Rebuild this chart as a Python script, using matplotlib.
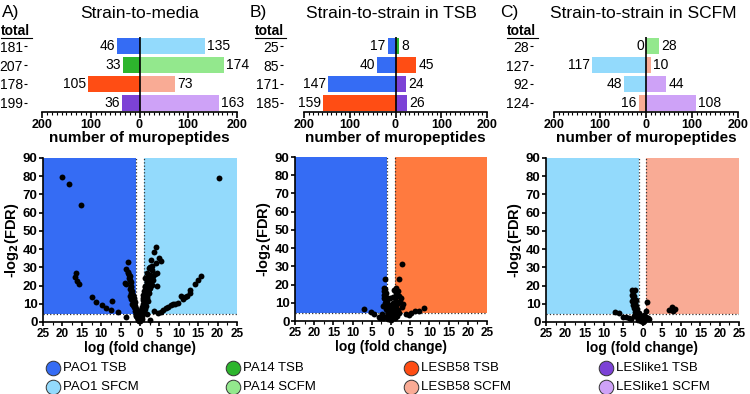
import matplotlib
matplotlib.use("Agg")
import matplotlib.pyplot as plt
from matplotlib.ticker import MultipleLocator, FuncFormatter

plt.rcParams['font.family'] = ['Liberation Sans', 'DejaVu Sans']

# colours for each strain / medium
colors = {
    "PAO1 TSB": "#356cf4",
    "PAO1 SFCM": "#93dafc",
    "PA14 TSB": "#2db52d",
    "PA14 SCFM": "#93e88d",
    "LESB58 TSB": "#ff4d14",
    "LESB58 SCFM": "#f9ab95",
    "LESlike1 TSB": "#7c42d6",
    "LESlike1 SCFM": "#cea2f7",
}
shade_b_right = "#ff7a3f"

# ---- bar data (top row) ----
a_totals = [181, 207, 178, 199]
a_left = [46, 33, 105, 36]
a_right = [135, 174, 73, 163]
a_lcol = ["PAO1 TSB", "PA14 TSB", "LESB58 TSB", "LESlike1 TSB"]
a_rcol = ["PAO1 SFCM", "PA14 SCFM", "LESB58 SCFM", "LESlike1 SCFM"]

b_totals = [25, 85, 171, 185]
b_left = [17, 40, 147, 159]
b_right = [8, 45, 24, 26]
b_lcol = ["PAO1 TSB", "PAO1 TSB", "PAO1 TSB", "LESB58 TSB"]
b_rcol = ["PA14 TSB", "LESB58 TSB", "LESlike1 TSB", "LESlike1 TSB"]

c_totals = [28, 127, 92, 124]
c_left = [0, 117, 48, 16]
c_right = [28, 10, 44, 108]
c_lcol = ["PAO1 SFCM", "PAO1 SFCM", "PAO1 SFCM", "LESB58 SCFM"]
c_rcol = ["PA14 SCFM", "LESB58 SCFM", "LESlike1 SCFM", "LESlike1 SCFM"]

# ---- volcano data (bottom row) ----
a_fc = [-20.1, -18.3, -15.1, 20.4, -16.4, -16.8, -16.2, -15.7,
        -12.3, -11.4, -9.7, -8.7, -7.1, -7.4, -5.7, -3.6,
        -3.1, -3.7, -3.2, -2.8, -2.5, -2.9, -3.9, -3.5, -2.4, -2.2, -2.0, -1.8,
        -2.5, -1.6, -1.4, -2.0, -1.2, -1.5, -1.0, -1.3, -0.8, -1.1, -0.6, -0.9,
        -0.4, -0.2, -0.5, -1.6, -1.9, -1.7, -2.3, -1.1,
        -2.6, -2.2, -1.9, -1.6, -1.3, -1.0, -0.7, -0.4, -2.1, -1.8, -1.5, -1.2,
        -0.9, -0.6, -0.3, -3.0, -2.7, -2.4,
        4.0, 3.5, 2.9, 4.9, 5.5, 2.2, 3.2, 2.6, 1.8, 2.5, 3.0, 1.4, 2.1, 3.4,
        1.7, 2.8, 1.2, 2.3, 3.0, 1.6, 4.4, 1.0, 2.0, 0.8, 1.5, 2.4, 0.9, 1.7,
        1.3, 2.0, 0.7, 1.0, 1.6, 0.5, 1.2, 0.4, 0.9, 0.3, 0.6, 0.2, 0.4, 0.1,
        0.0, 2.5, 1.9, 3.6, 4.4, 3.9, 3.1, 4.2,
        1.1, 1.4, 1.8, 2.2, 2.6, 0.6, 0.8, 1.1, 1.4, 1.9, 2.7, 3.3, 0.3, 0.5,
        15.6, 14.9, 14.1, 12.8, 12.1, 13.0, 10.6, 11.0, 9.7, 9.0, 8.0, 8.6,
        7.3, 6.7, 6.0, 5.5, 4.7, 11.5]
a_fdr = [79.3, 75.6, 64.3, 79.0, 26.7, 24.9, 22.5, 20.9,
         13.7, 11.0, 9.2, 7.5, 11.5, 6.6, 5.5, 3.0,
         32.8, 29.0, 27.5, 26.0, 25.0, 24.0, 21.2, 21.0, 22.0, 19.0, 17.0, 15.0,
         14.0, 13.0, 11.0, 10.0, 9.0, 8.0, 7.0, 6.0, 5.0, 4.0, 3.0, 2.5,
         1.5, 0.5, 1.0, 12.0, 11.5, 9.5, 12.5, 3.2,
         18.0, 16.0, 14.5, 10.5, 8.5, 5.5, 4.5, 2.5, 13.5, 12.8, 10.0, 7.5,
         6.5, 2.0, 1.0, 27.0, 23.0, 20.0,
         41.0, 38.5, 34.0, 35.0, 33.6, 29.6, 31.0, 30.0, 27.0, 26.0, 25.5, 24.0, 24.0, 23.0,
         22.0, 22.0, 20.0, 20.0, 20.5, 18.5, 27.0, 17.0, 17.0, 15.0, 15.5, 16.0, 13.0, 13.0,
         11.0, 11.5, 10.0, 8.5, 9.0, 7.5, 7.0, 6.0, 5.5, 4.5, 3.5, 2.5, 1.8, 1.0,
         0.3, 1.2, 4.2, 5.8, 19.5, 26.5, 28.3, 32.5,
         14.0, 19.0, 21.0, 18.0, 21.5, 8.0, 12.0, 6.0, 10.0, 14.5, 18.5, 25.0, 3.0, 5.0,
         25.3, 22.9, 21.0, 17.6, 14.3, 16.0, 14.0, 12.5, 10.3, 10.0, 9.5, 9.8,
         8.0, 7.5, 6.5, 5.3, 4.8, 13.5]

b_fc = [2.8, -1.6, 2.2, -7.0, 8.6, 7.4, 6.2, 5.3, 4.0, 4.6, -5.2, -4.5, -2.8, -3.2, -2.0,
        -1.8, -1.5, -1.9, -1.3, -1.7, -1.2, -1.5, -1.0, -1.6, -0.9, -1.3, -0.7, -1.0,
        -0.5, -0.8, -0.4, -0.6, -0.2, 0.0, 0.3, 0.5, 0.7, 1.0, 0.8, 1.2, 0.9, 1.4, 1.1,
        1.6, 2.0, 1.3, 0.9, 1.2, 2.6, 2.3, 3.0, 2.8, 1.8, 2.2, 1.5, 1.0, -1.4, -2.2,
        -2.4, 0.4, 0.5, -0.3,
        -1.1, -0.8, -0.5, -0.2, 0.2, 0.6, 0.9, 1.3, 1.7, -1.9, -1.4, -0.3, 0.1, 1.9]
b_fdr = [31.3, 23.0, 23.0, 6.8, 7.4, 5.7, 5.5, 4.6, 3.7, 3.2, 4.9, 3.7, 1.8, 2.3, 1.5,
         18.0, 17.5, 16.5, 15.5, 14.0, 13.0, 12.0, 11.0, 10.0, 9.0, 8.0, 7.0, 6.0,
         5.0, 4.0, 3.0, 2.0, 1.0, 0.5, 1.5, 2.5, 3.5, 5.0, 6.5, 8.0, 9.5, 11.0, 12.5,
         14.0, 13.5, 15.5, 17.0, 18.0, 12.5, 10.5, 9.3, 7.5, 6.0, 4.5, 3.0, 1.8, 6.5, 8.2,
         4.0, 13.0, 10.0, 12.5,
         2.5, 1.2, 7.5, 4.0, 6.0, 8.5, 3.0, 5.5, 10.0, 12.5, 9.5, 9.0, 2.0, 16.5]

c_fc = [-2.8, -2.0, -2.4, -2.7, -2.2, -2.5, -2.1, -2.6, -2.0, -2.4, -1.9, -2.3, -1.7,
        -2.0, -1.5, -1.8, -1.2, -1.5, -0.9, -1.1, -0.6, -0.3, 0.0, 0.3, 0.6, -0.5, -0.8,
        -7.1, -6.0, -5.0, -4.2, -3.5, -2.9, 1.1, 7.6, 6.8, 8.0, 8.3, 0.8, 1.8, 1.4, 0.5, 0.9,
        -1.6, -1.3, -1.0, -2.2, -1.8, -0.2]
c_fdr = [17.6, 17.3, 16.5, 15.0, 14.5, 13.5, 12.3, 11.5, 10.5, 9.5, 8.5, 7.5, 6.5,
         5.5, 4.8, 4.0, 3.3, 2.5, 2.0, 1.3, 1.0, 0.5, 0.2, 0.8, 1.5, 3.0, 5.0,
         5.7, 4.8, 3.0, 2.7, 2.0, 1.5, 11.2, 8.1, 6.6, 6.2, 7.2, 3.0, 1.5, 2.2, 4.0, 6.0,
         9.0, 7.0, 4.5, 3.5, 12.0, 2.0]

fdr_cut = 4.32
fc_cut = 1

W, H = 750, 394
fig = plt.figure(figsize=(7.5, 3.94), dpi=100)


def rect(x0, x1, y0, y1):
    return [x0 / W, 1 - y1 / H, (x1 - x0) / W, (y1 - y0) / H]


absfmt = FuncFormatter(lambda v, p: f"{abs(v):g}")


def draw_bars(ax, totals, left, right, lcol, rcol, offset_px):
    rows = list(range(len(totals)))
    ax.barh(rows, [-v for v in left], height=0.85, color=[colors[k] for k in lcol])
    ax.barh(rows, right, height=0.85, color=[colors[k] for k in rcol])
    ax.axvline(0, color="black", lw=1.2, zorder=3)
    for r, v in zip(rows, left):
        ax.annotate(str(v), (-v, r), xytext=(-1.5, 0), textcoords="offset points",
                    ha="right", va="center", fontsize=10)
    for r, v in zip(rows, right):
        ax.annotate(str(v), (v, r), xytext=(1.5, 0), textcoords="offset points",
                    ha="left", va="center", fontsize=10)
    ax.set_xlim(-200, 200)
    ax.set_ylim(len(totals) - 0.5, -0.5)
    ax.set_yticks(rows)
    ax.set_yticklabels([str(t) for t in totals], fontsize=9.5)
    for s in ["top", "right"]:
        ax.spines[s].set_visible(False)
    ax.spines["left"].set_position(("outward", offset_px * 0.72))
    ax.spines["left"].set_visible(False)
    ax.tick_params(axis="y", length=2, width=0.8, pad=1)
    ax.spines["bottom"].set_linewidth(1.2)
    ax.xaxis.set_major_locator(MultipleLocator(100))
    ax.xaxis.set_minor_locator(MultipleLocator(10))
    ax.xaxis.set_major_formatter(absfmt)
    ax.tick_params(axis="x", which="major", length=4, width=1.2, pad=1, labelsize=9)
    ax.tick_params(axis="x", which="minor", length=2, width=0.8)
    for lab in ax.get_xticklabels():
        lab.set_fontweight("bold")
    ax.set_xlabel("number of muropeptides", fontsize=11, fontweight="bold", labelpad=0)


def draw_volcano(ax, fc, fdr, lshade, rshade):
    ax.fill_between([-25, -fc_cut], fdr_cut, 90, color=lshade, lw=0, zorder=0)
    ax.fill_between([fc_cut, 25], fdr_cut, 90, color=rshade, lw=0, zorder=0)
    ax.axhline(fdr_cut, color="#333333", ls=":", lw=0.9, zorder=1)
    ax.plot([-fc_cut, -fc_cut], [0, 90], color="#333333", ls=":", lw=0.9, zorder=1)
    ax.plot([fc_cut, fc_cut], [0, 90], color="#333333", ls=":", lw=0.9, zorder=1)
    ax.scatter(fc, fdr, s=18, c="black", lw=0, zorder=3, clip_on=False)
    ax.set_xlim(-25, 25)
    ax.set_ylim(0, 90)
    ax.xaxis.set_major_locator(MultipleLocator(5))
    ax.xaxis.set_minor_locator(MultipleLocator(2.5))
    ax.xaxis.set_major_formatter(absfmt)
    ax.yaxis.set_major_locator(MultipleLocator(10))
    for s in ["top", "right"]:
        ax.spines[s].set_visible(False)
    for s in ["left", "bottom"]:
        ax.spines[s].set_linewidth(1.2)
    ax.tick_params(which="major", length=3, width=1.2, pad=1)
    ax.tick_params(which="minor", length=2, width=0.8)
    ax.tick_params(axis="x", labelsize=8.5)
    ax.tick_params(axis="y", labelsize=9.5)
    for lab in ax.get_xticklabels() + ax.get_yticklabels():
        lab.set_fontweight("bold")
    ax.set_ylabel(r"-log$_\mathbf{2}$(FDR)", fontsize=10.5, fontweight="bold", labelpad=1)
    ax.set_xlabel("log (fold change)", fontsize=10, fontweight="bold", labelpad=1)


# bar panels
axA = fig.add_axes(rect(42, 237, 37, 112))
draw_bars(axA, a_totals, a_left, a_right, a_lcol, a_rcol, 15)
axB = fig.add_axes(rect(304, 487, 37, 112))
draw_bars(axB, b_totals, b_left, b_right, b_lcol, b_rcol, 21)
axC = fig.add_axes(rect(554, 738, 37, 112))
draw_bars(axC, c_totals, c_left, c_right, c_lcol, c_rcol, 21)

# 'total' headers with underline
for x0 in [1, 255, 507]:
    fig.text(x0 / W, 1 - 31 / H, "total", fontsize=10, fontweight="bold", va="center")
    fig.add_artist(plt.Line2D([x0 / W, (x0 + 31) / W], [1 - 38 / H, 1 - 38 / H],
                              color="black", lw=0.8))

# titles
for x0, lab, xc, title in [(2, "A)", 140, "Strain-to-media"),
                           (250, "B)", 391, "Strain-to-strain in TSB"),
                           (500, "C)", 643, "Strain-to-strain in SCFM")]:
    fig.text(x0 / W, 1 - 13 / H, lab, fontsize=12.5, va="center")
    fig.text(xc / W, 1 - 13 / H, title, fontsize=12.5, va="center", ha="center")

# volcano panels
vA = fig.add_axes(rect(43, 237, 158, 322))
draw_volcano(vA, a_fc, a_fdr, colors["PAO1 TSB"], colors["PAO1 SFCM"])
vB = fig.add_axes(rect(295, 487, 157, 321))
draw_volcano(vB, b_fc, b_fdr, colors["PAO1 TSB"], shade_b_right)
vC = fig.add_axes(rect(546, 739, 158, 322))
draw_volcano(vC, c_fc, c_fdr, colors["PAO1 SFCM"], colors["LESB58 SCFM"])

# legend
legend_names = [["PAO1 TSB", "PA14 TSB", "LESB58 TSB", "LESlike1 TSB"],
                ["PAO1 SFCM", "PA14 SCFM", "LESB58 SCFM", "LESlike1 SCFM"]]
col_x = [53, 233, 411, 606]
row_y = [368, 387]
lg = fig.add_axes([0, 0, 1, 1], zorder=-1)
lg.set_xlim(0, W)
lg.set_ylim(H, 0)
lg.axis("off")
for names, y in zip(legend_names, row_y):
    for name, x in zip(names, col_x):
        lg.scatter([x], [y], s=110, color=colors[name], edgecolor="#333333", lw=0.7)
        lg.text(x + 10, y, name, fontsize=9.5, va="center")

fig.savefig("out.png", dpi=100)
